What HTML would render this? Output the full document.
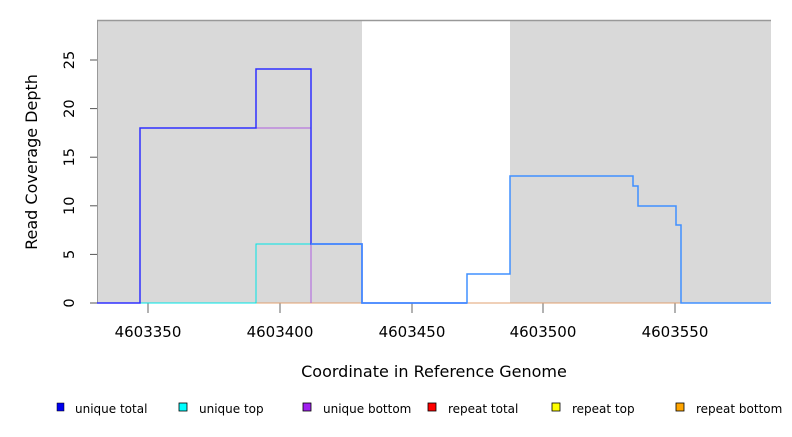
<!DOCTYPE html>
<html><head><style>body{margin:0;background:#fff}</style></head><body>
<svg width="792" height="432" xmlns="http://www.w3.org/2000/svg" font-family="DejaVu Sans, Liberation Sans, sans-serif">
<rect x="97" y="20" width="265" height="283" fill="#d9d9d9"/>
<rect x="510" y="20" width="261" height="283" fill="#d9d9d9"/>
<line x1="97" y1="20.5" x2="771" y2="20.5" stroke="#999" stroke-width="1.5"/>
<line x1="97.5" y1="20" x2="97.5" y2="303" stroke="#999" stroke-width="1"/>
<g stroke="#555" stroke-width="1">
<line x1="90" y1="303" x2="97" y2="303"/><line x1="90" y1="254.4" x2="97" y2="254.4"/>
<line x1="90" y1="205.8" x2="97" y2="205.8"/><line x1="90" y1="157.2" x2="97" y2="157.2"/>
<line x1="90" y1="108.6" x2="97" y2="108.6"/><line x1="90" y1="60" x2="97" y2="60"/>
</g>
<g font-size="14.5" fill="#000" text-anchor="middle">
<text transform="translate(74,303) rotate(-90)">0</text>
<text transform="translate(74,254.4) rotate(-90)">5</text>
<text transform="translate(74,205.8) rotate(-90)">10</text>
<text transform="translate(74,157.2) rotate(-90)">15</text>
<text transform="translate(74,108.6) rotate(-90)">20</text>
<text transform="translate(74,60) rotate(-90)">25</text>
<text transform="translate(37,162) rotate(-90)" font-size="16">Read Coverage Depth</text>
</g>
<g stroke="#999" stroke-width="1.5">
<line x1="148" y1="303" x2="148" y2="313"/><line x1="280" y1="303" x2="280" y2="313"/>
<line x1="412" y1="303" x2="412" y2="313"/><line x1="543" y1="303" x2="543" y2="313"/>
<line x1="675" y1="303" x2="675" y2="313"/>
</g>
<g font-size="15" fill="#000" text-anchor="middle">
<text x="148" y="337">4603350</text><text x="280" y="337">4603400</text>
<text x="412" y="337">4603450</text><text x="543" y="337">4603500</text>
<text x="675" y="337">4603550</text>
<text x="434" y="377" font-size="16">Coordinate in Reference Genome</text>
</g>
<line x1="140" y1="303" x2="771" y2="303" stroke="#e0a070" stroke-width="1"/>
<polyline fill="none" stroke="#00e5e5" stroke-width="1" points="97,303 256,303 256,244 311,244 311,303"/>
<polyline fill="none" stroke="#b060e0" stroke-width="1" points="97,303 140,303 140,128 311,128 311,303"/>
<polyline fill="none" stroke="#3030ff" stroke-width="1.5" points="97,303 140,303 140,128 256,128 256,69 311,69 311,244 362,244 362,303 467,303"/>
<polyline fill="none" stroke="#4090ff" stroke-width="1.5" points="311,244 362,244 362,303 467,303 467,274 510,274 510,176 633,176 633,186 638,186 638,206 676,206 676,225 681,225 681,303 771,303"/>
<g font-size="12" fill="#000">
<rect x="57" y="403" width="7" height="8" fill="#0000ee" stroke="#000" stroke-width="0.5"/><text x="75" y="413">unique total</text>
<rect x="179" y="403" width="8" height="8" fill="#00ffff" stroke="#000" stroke-width="0.8"/><text x="199" y="413">unique top</text>
<rect x="303" y="403" width="8" height="8" fill="#a020f0" stroke="#000" stroke-width="0.8"/><text x="323" y="413">unique bottom</text>
<rect x="428" y="403" width="8" height="8" fill="#ff0000" stroke="#000" stroke-width="0.8"/><text x="448" y="413">repeat total</text>
<rect x="552" y="403" width="8" height="8" fill="#ffff00" stroke="#000" stroke-width="0.8"/><text x="572" y="413">repeat top</text>
<rect x="676" y="403" width="8" height="8" fill="#ffa500" stroke="#000" stroke-width="0.8"/><text x="696" y="413">repeat bottom</text>
</g>
</svg>
</body></html>
